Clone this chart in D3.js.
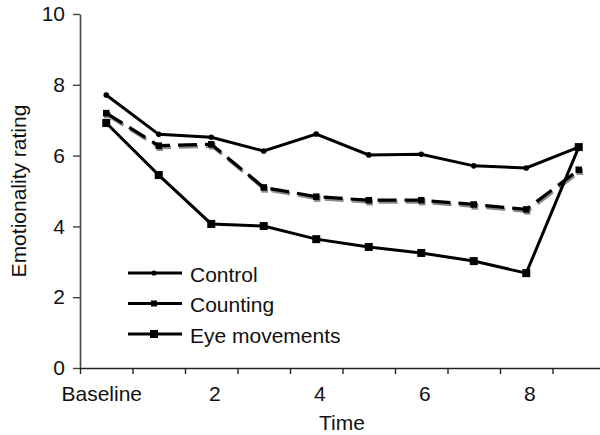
<!DOCTYPE html>
<html>
<head>
<meta charset="utf-8">
<script src="https://cdn.jsdelivr.net/npm/d3@7"></script>
<style>
  body { margin: 0; background: #fff; }
  svg text { font-family: "Liberation Sans", Arial, sans-serif; fill: #111; }
</style>
</head>
<body>
<div id="chart"></div>
<script>
// data
var timeLabels = ["Baseline", "1", "2", "3", "4", "5", "6", "7", "8", "9"];
var shownLabels = [0, 2, 4, 6, 8];
var yTicks = [0, 2, 4, 6, 8, 10];

var control = [7.71, 6.6, 6.52, 6.13, 6.61, 6.02, 6.04, 5.71, 5.65, 6.24];
var counting = [7.2, 6.28, 6.32, 5.1, 4.84, 4.74, 4.74, 4.62, 4.48, 5.6];
var eyeMovements = [6.92, 5.45, 4.07, 4.01, 3.64, 3.42, 3.25, 3.02, 2.68, 6.24];

var seriesNames = ["Control", "Counting", "Eye movements"];

var svgWidth = 600, svgHeight = 435;

var svg = d3.select("#chart").append("svg")
    .attr("width", svgWidth)
    .attr("height", svgHeight);

// scales (x: one unit per time point, ticks sit between points)
var x = d3.scaleLinear().domain([-0.5, 9.5]).range([80, 605]);
var y = d3.scaleLinear().domain([0, 10]).range([368, 14]);

// y axis
var yAxis = svg.append("g")
    .attr("transform", "translate(80,0)")
    .call(d3.axisLeft(y).tickValues(yTicks).tickSize(7).tickPadding(8).tickSizeOuter(0));
yAxis.select(".domain").attr("stroke", "#444").attr("stroke-width", 1.6);
yAxis.selectAll(".tick line").attr("stroke", "#444").attr("stroke-width", 1.4);
yAxis.selectAll("text").style("font-size", "21px").attr("fill", "#111");

// x axis: ticks between categories
var xAxis = svg.append("g")
    .attr("transform", "translate(0,368)")
    .call(d3.axisBottom(x).tickValues(d3.range(-0.5, 10, 1)).tickSize(6).tickFormat("").tickSizeOuter(0));
xAxis.select(".domain").attr("stroke", "#222").attr("stroke-width", 1.6);
xAxis.selectAll(".tick line").attr("stroke", "#222").attr("stroke-width", 1.4);

// x labels at the points themselves
var xLabels = svg.append("g")
    .attr("transform", "translate(0,368)")
    .call(d3.axisBottom(x).tickValues(shownLabels).tickSize(0).tickPadding(18)
        .tickFormat(function (d) { return timeLabels[d]; }));
xLabels.select(".domain").remove();
xLabels.selectAll("text").style("font-size", "21px").attr("fill", "#111")
    .attr("dx", function (d) { return d === 0 ? -5 : 3; });

// axis titles
svg.append("text")
    .attr("x", 342)
    .attr("y", 430)
    .attr("text-anchor", "middle")
    .style("font-size", "21px")
    .text("Time");

svg.append("text")
    .attr("transform", "translate(26,191) rotate(-90)")
    .attr("text-anchor", "middle")
    .style("font-size", "21px")
    .text("Emotionality rating");

var line = d3.line()
    .x(function (d, i) { return x(i); })
    .y(function (d) { return y(d); });

function drawSquares(g, data, size, color) {
    g.selectAll("rect.pt").data(data).enter().append("rect")
        .attr("class", "pt")
        .attr("x", function (d, i) { return x(i) - size / 2; })
        .attr("y", function (d) { return y(d) - size / 2; })
        .attr("width", size)
        .attr("height", size)
        .attr("fill", color);
}

// counting: dashed with a grey drop shadow
var shadow = svg.append("g").attr("transform", "translate(1,2)");
shadow.append("path")
    .attr("d", line(counting))
    .attr("fill", "none")
    .attr("stroke", "#8a8a8a")
    .attr("stroke-width", 3.2)
    .attr("stroke-dasharray", "19,8");
drawSquares(shadow, counting, 6.5, "#8a8a8a");

var countG = svg.append("g");
countG.append("path")
    .attr("d", line(counting))
    .attr("fill", "none")
    .attr("stroke", "#000")
    .attr("stroke-width", 3.2)
    .attr("stroke-dasharray", "19,8");
drawSquares(countG, counting, 6.5, "#000");

// control: solid with small dots
var ctrlG = svg.append("g");
ctrlG.append("path")
    .attr("d", line(control))
    .attr("fill", "none")
    .attr("stroke", "#000")
    .attr("stroke-width", 3);
ctrlG.selectAll("circle").data(control).enter().append("circle")
    .attr("cx", function (d, i) { return x(i); })
    .attr("cy", function (d) { return y(d); })
    .attr("r", 2.8)
    .attr("fill", "#000");

// eye movements: solid with bigger squares
var eyeG = svg.append("g");
eyeG.append("path")
    .attr("d", line(eyeMovements))
    .attr("fill", "none")
    .attr("stroke", "#000")
    .attr("stroke-width", 3);
drawSquares(eyeG, eyeMovements, 8, "#000");

// legend
var legend = svg.selectAll(".legend").data(seriesNames)
    .enter().append("g")
    .attr("class", "legend")
    .attr("transform", function (d, i) { return "translate(128," + (273 + i * 30.5) + ")"; });

legend.append("line")
    .attr("x1", 0).attr("x2", 54)
    .attr("stroke", "#000")
    .attr("stroke-width", 3);

legend.each(function (d, i) {
    var g = d3.select(this);
    if (i === 0) {
        g.append("circle").attr("cx", 26).attr("r", 2.6).attr("fill", "#000");
    } else {
        var s = i === 1 ? 6 : 8;
        g.append("rect").attr("x", 26 - s / 2).attr("y", -s / 2)
            .attr("width", s).attr("height", s).attr("fill", "#000");
    }
});

legend.append("text")
    .attr("x", 62)
    .attr("y", 8.5)
    .style("font-size", "21px")
    .text(function (d) { return d; });
</script>
</body>
</html>
